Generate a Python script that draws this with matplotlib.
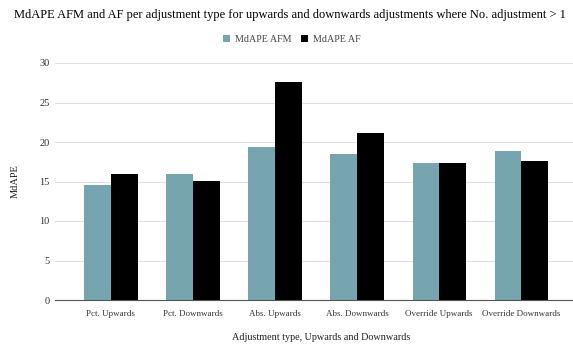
import numpy as np
import matplotlib.pyplot as plt

categories = ["Pct. Upwards", "Pct. Downwards", "Abs. Upwards", "Abs. Downwards",
              "Override Upwards", "Override Downwards"]
mdape_afm = [14.5, 15.9, 19.4, 18.5, 17.3, 18.9]
mdape_af = [16.0, 15.1, 27.6, 21.2, 17.3, 17.6]

plt.rcParams['font.family'] = ['Liberation Serif', 'DejaVu Serif']

fig = plt.figure(figsize=(5.73, 3.45), dpi=100)
ax = fig.add_axes([55 / 573, 45 / 345, 518 / 573, 237 / 345])

x = np.arange(len(categories))
w = 0.325
ax.bar(x - w / 2, mdape_afm, w, color='#76a5af', label='MdAPE AFM', zorder=2)
ax.bar(x + w / 2, mdape_af, w, color='black', label='MdAPE AF', zorder=2)

ax.set_xlim(-0.68, 5.63)
ax.set_ylim(0, 30)
ax.set_yticks(range(0, 31, 5))
ax.grid(axis='y', color='#e0e0e0', linewidth=0.8, zorder=0)
ax.set_xticks(x)
ax.set_xticklabels(categories)
ax.tick_params(axis='y', length=0, labelsize=7.5, labelcolor='#333333', pad=4)
ax.tick_params(axis='x', length=0, labelsize=6.5, labelcolor='#333333', pad=7)
for s in ['top', 'right', 'left']:
    ax.spines[s].set_visible(False)
ax.spines['bottom'].set_color('#555555')
ax.spines['bottom'].set_linewidth(0.8)

ax.set_ylabel('MdAPE', fontsize=7.5, color='#222222', labelpad=14)
# x-axis title placed by hand so it stays inside the figure
fig.text(321 / 573, 1 - 338 / 345, 'Adjustment type, Upwards and Downwards',
         ha='center', va='center', fontsize=7.3, color='#222222')

fig.text(290 / 573, 1 - 15 / 345, 'MdAPE AFM and AF per adjustment type for upwards and downwards '
         'adjustments where No. adjustment > 1', ha='center', va='center',
         fontsize=9.0, color='black')
fig.legend(loc='center', bbox_to_anchor=(292 / 573, 1 - 39 / 345), ncol=2, frameon=False,
           fontsize=7.2, handlelength=0.7, handleheight=0.7, handletextpad=0.5,
           columnspacing=1.0, labelcolor='#444444')

fig.savefig('out.png', dpi=100)
